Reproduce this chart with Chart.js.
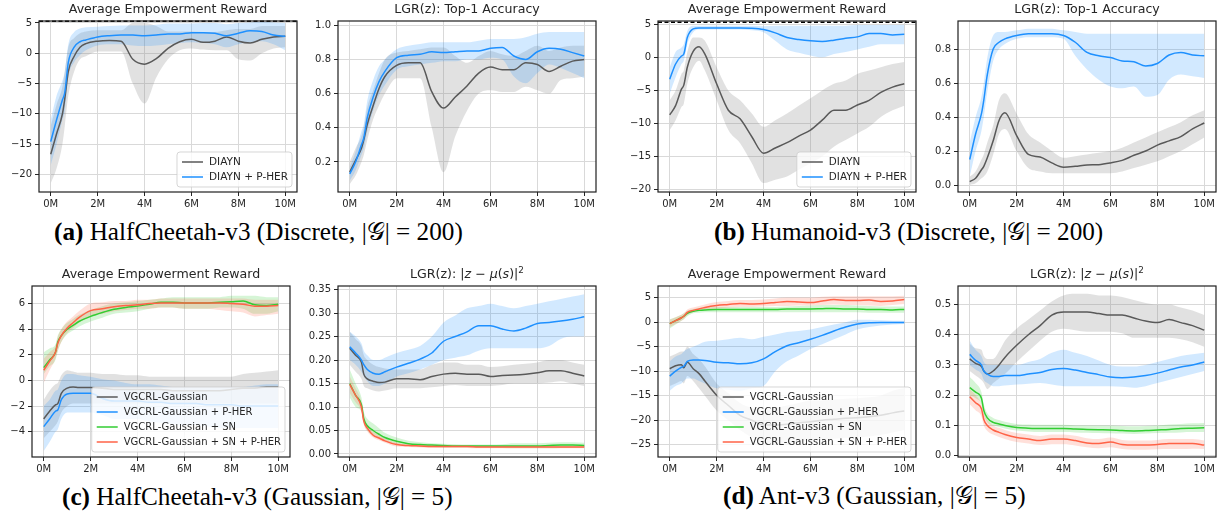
<!DOCTYPE html>
<html><head><meta charset="utf-8">
<script src="https://cdn.jsdelivr.net/npm/chart.js@4.4.0/dist/chart.umd.min.js"></script>
<style>
html,body{margin:0;padding:0;background:#fff;}
body{width:1224px;height:519px;overflow:hidden;position:relative;}
canvas{position:absolute;}
.cap{position:absolute;font-family:"Liberation Serif","Times New Roman",serif;font-size:25.2px;line-height:30px;white-space:nowrap;color:#000;}
.cap b{font-weight:bold;}
</style>
</head><body>
<div class="cap" style="left:54px;top:217px"><b>(a)</b> HalfCheetah-v3 (Discrete, |𝒢| = 200)</div>
<div class="cap" style="left:714px;top:217px"><b>(b)</b> Humanoid-v3 (Discrete, |𝒢| = 200)</div>
<div class="cap" style="left:62px;top:482px"><b>(c)</b> HalfCheetah-v3 (Gaussian, |𝒢| = 5)</div>
<div class="cap" style="left:723px;top:481px"><b>(d)</b> Ant-v3 (Gaussian, |𝒢| = 5)</div>
<script>
// ---------- shared axes ----------
const X = [0,0.25,0.5,0.6,0.75,1,1.25,1.5,2,2.5,3,3.5,4,4.5,5,5.5,6,6.5,7,7.5,8,8.5,9,9.5,10];
const X_TICKS = [0,2,4,6,8,10];
const X_TICK_LABELS = ['0M','2M','4M','6M','8M','10M'];
const SERIES_DISCRETE = ['DIAYN','DIAYN + P-HER'];
const SERIES_GAUSS = ['VGCRL-Gaussian','VGCRL-Gaussian + P-HER','VGCRL-Gaussian + SN','VGCRL-Gaussian + SN + P-HER'];
const REF_LOG200 = 5.298;

// ---------- (a) HalfCheetah discrete: reward ----------
const A1_YTICKS = [-20,-15,-10,-5,0,5];
const A1_YLABELS = ['−20','−15','−10','−5','0','5'];
const a1_diayn_mean = [-16.7,-13.3,-10.0,-7.5,-3.0,-0.5,1.0,1.6,2.0,2.1,2.0,-1.0,-1.8,-0.9,0.8,1.9,2.3,1.8,2.0,2.7,2.0,1.7,2.3,2.7,2.8];
const a1_diayn_lo   = [-21.5,-19,-15,-12,-7,-3,-1,-0.5,0.3,0.3,0.3,-5,-8.3,-4,-1,0.5,0.8,0.6,0.5,0.5,-1,-1.2,0,0.8,1];
const a1_diayn_hi   = [-12,-8.5,-5.5,-3,1,2.5,3.3,3.6,3.8,3.8,3.8,5.0,5.0,4.5,3.6,3.6,3.6,3.5,3.5,3.8,4.0,4.0,4.5,4.5,4.5];
const a1_pher_mean  = [-14.6,-11,-7.7,-6.5,-1.5,1.0,1.9,2.2,2.7,2.9,3.0,3.0,2.9,3.0,3.2,3.2,3.4,3.4,3.3,2.9,3.3,3.7,3.6,3.0,2.8];
const a1_pher_lo    = [-18.5,-15,-11,-9.5,-4,-1.5,-0.3,0.5,1.3,1.5,1.5,1.3,1.2,1.3,1.5,1.7,1.8,1.7,1.5,1.0,1.5,1.8,2.0,1.5,0.5];
const a1_pher_hi    = [-11,-7,-4.5,-3,1.5,3.5,4.1,4.3,4.4,4.5,4.6,4.6,4.6,4.7,4.9,4.9,4.9,5.0,5.0,4.8,5.0,5.1,5.2,5.1,5.0];

// ---------- (a) HalfCheetah discrete: top-1 accuracy ----------
const A2_YTICKS = [0.2,0.4,0.6,0.8,1.0];
const A2_YLABELS = ['0.2','0.4','0.6','0.8','1.0'];
const a2_diayn_mean = [.14,.21,.28,.33,.42,.53,.63,.70,.765,.78,.78,.61,.515,.58,.645,.72,.755,.74,.74,.78,.77,.73,.76,.79,.80];
const a2_diayn_lo   = [.07,.12,.2,.24,.33,.45,.53,.6,.69,.69,.69,.4,.14,.35,.5,.6,.62,.61,.61,.64,.62,.6,.68,.69,.7];
const a2_diayn_hi   = [.2,.28,.35,.4,.52,.62,.72,.8,.84,.85,.86,.87,.87,.82,.78,.82,.85,.83,.82,.85,.88,.85,.87,.88,.88];
const a2_pher_mean  = [.13,.2,.3,.34,.46,.58,.67,.73,.81,.825,.83,.845,.84,.845,.85,.85,.865,.87,.82,.80,.845,.865,.86,.84,.82];
const a2_pher_lo    = [.09,.15,.24,.28,.38,.5,.59,.65,.74,.76,.77,.78,.79,.79,.8,.8,.81,.8,.7,.66,.72,.77,.75,.72,.69];
const a2_pher_hi    = [.17,.26,.38,.42,.56,.68,.76,.8,.86,.88,.89,.9,.9,.9,.9,.91,.92,.92,.92,.93,.95,.96,.96,.96,.96];

// ---------- (b) Humanoid discrete: reward ----------
const B1_YTICKS = [-20,-15,-10,-5,0,5];
const B1_YLABELS = ['−20','−15','−10','−5','0','5'];
const b1_diayn_mean = [-8.7,-7.3,-4.8,-4.2,-1.5,0.9,1.6,0.5,-4.0,-8.0,-9.3,-12.0,-14.5,-13.7,-12.9,-11.9,-11.0,-9.5,-8.0,-8.0,-7.2,-6.5,-5.3,-4.5,-4.0];
const b1_diayn_lo   = [-11,-9.5,-7.5,-7,-4,-1.5,-0.5,-2,-6.5,-11,-13,-16,-19,-18.5,-18,-17,-16,-15,-13.5,-12.5,-11.5,-10.5,-9,-8,-7.3];
const b1_diayn_hi   = [-6.5,-5,-2.5,-2,0.8,3,3,2.5,-1.5,-5,-6.5,-8.5,-10.5,-9.5,-8.5,-7.3,-6.2,-5,-4,-3.5,-2.5,-2,-1.5,-1,-0.7];
const b1_pher_mean  = [-3.3,-1.0,0.2,0.5,3.0,4.3,4.45,4.45,4.45,4.45,4.45,4.4,4.2,3.7,3.0,2.7,2.5,2.4,2.6,2.9,3.1,3.6,3.6,3.4,3.5];
const b1_pher_lo    = [-5.5,-3,-1,-0.5,2,3.8,4.2,4.2,4.2,4.2,4.2,4.1,3.8,2.5,1.2,0.7,0.3,0,0.5,0.8,1.2,1.6,2,2,2];
const b1_pher_hi    = [-1.5,0.8,1.5,2,4,4.8,4.8,4.8,4.8,4.8,4.8,4.8,4.7,4.8,4.8,4.8,4.8,4.8,4.8,4.8,4.9,4.9,4.9,4.9,4.9];

// ---------- (b) Humanoid discrete: top-1 accuracy ----------
const B2_YTICKS = [0,0.2,0.4,0.6,0.8];
const B2_YLABELS = ['0.0','0.2','0.4','0.6','0.8'];
const b2_diayn_mean = [.02,.04,.09,.11,.16,.26,.38,.425,.29,.18,.165,.13,.105,.11,.118,.12,.13,.145,.175,.2,.235,.26,.285,.33,.365];
const b2_diayn_lo   = [0,.01,.04,.05,.08,.18,.3,.33,.2,.1,.08,.07,.07,.07,.07,.07,.07,.08,.1,.12,.14,.17,.2,.24,.28];
const b2_diayn_hi   = [.05,.08,.15,.18,.25,.35,.5,.54,.42,.3,.25,.2,.16,.17,.18,.19,.2,.22,.25,.28,.31,.34,.37,.41,.44];
const b2_pher_mean  = [.15,.3,.42,.5,.65,.8,.84,.86,.88,.89,.89,.89,.88,.84,.78,.76,.75,.73,.725,.7,.715,.765,.78,.765,.76];
const b2_pher_lo    = [.05,.2,.32,.4,.55,.73,.8,.83,.86,.87,.87,.87,.86,.76,.68,.62,.58,.57,.58,.52,.53,.62,.65,.64,.63];
const b2_pher_hi    = [.25,.4,.52,.6,.75,.88,.9,.9,.91,.92,.92,.92,.91,.9,.89,.89,.89,.89,.89,.89,.89,.89,.89,.89,.89];

// ---------- (c) HalfCheetah Gaussian: reward ----------
const C1_YTICKS = [-4,-2,0,2,4,6];
const C1_YLABELS = ['−4','−2','0','2','4','6'];
const c1_base_mean   = [-3.0,-2.4,-1.9,-1.8,-1.0,-0.6,-0.5,-0.55,-0.55,-0.6,-0.7,-0.7,-0.7,-0.7,-0.7,-0.8,-0.8,-0.8,-0.8,-0.8,-0.7,-0.6,-0.6,-0.5,-0.5];
const c1_base_lo     = [-4.5,-4,-3.5,-3.2,-2.5,-2,-1.8,-1.8,-1.8,-1.8,-1.8,-1.8,-1.8,-1.8,-1.8,-1.8,-1.8,-1.8,-1.8,-1.8,-1.8,-1.8,-1.8,-1.8,-1.8];
const c1_base_hi     = [-1.5,-0.8,-0.3,-0.2,0.4,0.8,0.7,0.6,0.6,0.5,0.5,0.4,0.4,0.3,0.3,0.3,0.3,0.3,0.3,0.3,0.3,0.5,0.6,0.7,0.8];
const c1_pher_mean   = [-3.6,-3.0,-2.4,-2.3,-1.5,-1.05,-1.0,-1.0,-1.0,-1.4,-1.6,-1.6,-1.6,-1.7,-1.7,-1.8,-1.8,-1.8,-1.9,-1.9,-1.9,-2.0,-2.0,-2.0,-2.0];
const c1_pher_lo     = [-5.5,-4.8,-4,-3.8,-3,-2.5,-2.5,-2.5,-2.5,-2.7,-3,-3,-3,-3.2,-3.3,-3.4,-3.5,-3.5,-3.6,-3.7,-3.7,-3.7,-3.7,-3.7,-3.7];
const c1_pher_hi     = [-2,-1.5,-0.8,-0.7,0,0.5,0.5,0.4,0.3,0.1,0,-0.2,-0.3,-0.3,-0.4,-0.5,-0.5,-0.5,-0.5,-0.5,-0.5,-0.5,-0.4,-0.3,-0.3];
const c1_sn_mean     = [1.0,1.6,2.2,3.0,3.5,4.0,4.3,4.6,5.0,5.3,5.55,5.7,5.8,5.95,6.1,6.1,6.05,6.05,6.05,6.1,6.15,6.2,5.9,5.85,5.95];
const c1_sn_lo       = [0.5,1.1,1.6,2.3,3.0,3.6,3.9,4.2,4.6,4.9,5.2,5.3,5.4,5.6,5.7,5.7,5.6,5.6,5.6,5.7,5.7,5.6,5.2,5.2,5.4];
const c1_sn_hi       = [2.2,2.5,2.8,3.5,4.0,4.5,4.8,5.1,5.5,5.8,6.0,6.1,6.2,6.3,6.4,6.5,6.5,6.5,6.5,6.5,6.6,6.6,6.6,6.5,6.5];
const c1_snpher_mean = [0.8,1.5,2.2,2.9,3.5,4.1,4.5,4.9,5.45,5.6,5.75,5.85,5.9,6.0,6.05,6.05,6.05,6.05,6.05,6.05,6.0,5.95,5.8,5.8,5.85];
const c1_snpher_lo   = [-0.2,0.8,1.7,2.3,3.0,3.7,4.1,4.5,5.0,5.2,5.4,5.5,5.6,5.6,5.7,5.7,5.6,5.6,5.6,5.5,5.4,5.3,5.0,5.1,5.2];
const c1_snpher_hi   = [1.7,2.2,2.7,3.4,4.0,4.6,5.0,5.4,6.0,6.1,6.2,6.2,6.3,6.3,6.4,6.4,6.4,6.4,6.4,6.4,6.4,6.4,6.3,6.3,6.3];

// ---------- (c) HalfCheetah Gaussian: |z - mu(s)|^2 ----------
const C2_YTICKS = [0,0.05,0.10,0.15,0.20,0.25,0.30,0.35];
const C2_YLABELS = ['0.00','0.05','0.10','0.15','0.20','0.25','0.30','0.35'];
const c2_base_mean   = [.225,.21,.195,.17,.16,.155,.152,.153,.16,.16,.158,.165,.17,.172,.17,.17,.165,.167,.168,.17,.173,.177,.177,.172,.166];
const c2_base_lo     = [.19,.175,.16,.145,.14,.135,.133,.135,.14,.14,.14,.142,.145,.147,.145,.145,.145,.147,.15,.15,.15,.152,.155,.15,.145];
const c2_base_hi     = [.26,.245,.23,.21,.2,.19,.185,.182,.18,.18,.18,.19,.195,.195,.19,.19,.185,.187,.19,.192,.195,.2,.2,.195,.19];
const c2_pher_mean   = [.228,.215,.2,.19,.18,.172,.17,.175,.185,.193,.202,.215,.24,.25,.26,.273,.273,.266,.262,.268,.278,.28,.283,.287,.292];
const c2_pher_lo     = [.2,.19,.175,.165,.155,.145,.145,.15,.165,.172,.18,.19,.2,.205,.21,.22,.225,.225,.225,.225,.225,.23,.245,.25,.25];
const c2_pher_hi     = [.26,.25,.235,.22,.21,.2,.2,.205,.215,.222,.23,.25,.28,.295,.31,.315,.32,.315,.31,.315,.32,.325,.33,.335,.34];
const c2_sn_mean     = [.15,.125,.105,.075,.06,.05,.042,.035,.027,.022,.02,.019,.018,.017,.017,.017,.017,.017,.017,.017,.017,.018,.019,.019,.018];
const c2_sn_lo       = [.12,.1,.09,.065,.05,.04,.033,.028,.02,.017,.015,.015,.014,.014,.014,.014,.014,.013,.012,.012,.012,.012,.013,.013,.013];
const c2_sn_hi       = [.18,.15,.12,.09,.075,.065,.055,.045,.035,.028,.025,.023,.022,.021,.02,.02,.02,.021,.023,.023,.023,.024,.025,.025,.024];
const c2_snpher_mean = [.148,.125,.1,.07,.055,.04,.034,.028,.02,.018,.017,.016,.016,.016,.016,.015,.015,.015,.015,.015,.015,.015,.015,.015,.015];
const c2_snpher_lo   = [.13,.11,.09,.062,.048,.035,.029,.024,.016,.015,.014,.013,.013,.013,.013,.012,.012,.012,.012,.012,.012,.012,.012,.012,.012];
const c2_snpher_hi   = [.165,.14,.11,.078,.062,.048,.04,.033,.024,.021,.02,.019,.019,.019,.019,.018,.018,.018,.018,.018,.018,.018,.018,.018,.018];

// ---------- (d) Ant Gaussian: reward ----------
const D1_YTICKS = [-25,-20,-15,-10,-5,0,5];
const D1_YLABELS = ['−25','−20','−15','−10','−5','0','5'];
const d1_base_mean   = [-9.5,-8.9,-8.7,-9.3,-8.2,-9.5,-10.5,-12.0,-14.9,-17.0,-19.0,-20.0,-21.0,-21.0,-20.8,-20.5,-20.3,-20.0,-19.8,-19.6,-19.5,-19.3,-19.0,-18.5,-18.1];
const d1_base_lo     = [-13,-12.5,-12,-12.5,-11,-12,-13.5,-15,-18,-20,-22,-23.5,-24.5,-25,-25,-24.5,-24,-24,-23.8,-23.6,-23.5,-23.3,-23,-22.5,-22];
const d1_base_hi     = [-7,-6.5,-6,-6,-5,-6.5,-7.5,-9,-12.5,-14.5,-16.5,-17.5,-18,-17.5,-17,-16.5,-16,-16,-15.8,-15.6,-15.5,-15.3,-15,-14,-13.5];
const d1_pher_mean   = [-11,-10,-9.2,-9.0,-8.0,-7.7,-7.7,-7.8,-8.2,-8.3,-8.5,-8.3,-7.5,-6.0,-4.8,-4.2,-3.5,-2.7,-1.8,-1.0,-0.4,-0.1,-0.05,-0.05,-0.05];
const d1_pher_lo     = [-14,-13,-12.5,-12,-11.5,-11.5,-12,-12.5,-13.5,-13.8,-14,-13.5,-13,-10,-8,-6.8,-5.5,-4.5,-3.5,-2.5,-1.5,-1,-0.7,-0.5,-0.4];
const d1_pher_hi     = [-8,-7,-6.5,-6,-5.5,-5,-4.5,-4,-3.8,-3.5,-3.2,-3.5,-3,-2.5,-2,-1.8,-1.5,-1,-0.5,0,0.5,0.5,0.4,0.3,0.3];
const d1_sn_mean     = [-0.3,0.3,0.9,1.2,1.8,2.2,2.4,2.5,2.6,2.6,2.6,2.6,2.6,2.6,2.7,2.7,2.7,2.75,2.8,2.7,2.7,2.6,2.6,2.5,2.6];
const d1_sn_lo       = [-1.3,-0.5,0.3,0.6,1.2,1.8,1.9,2.0,2.0,2.0,2.0,2.0,2.0,2.0,2.0,2.0,2.0,2.0,2.0,2.0,2.0,1.9,1.9,1.9,1.9];
const d1_sn_hi       = [0.6,1.0,1.5,1.8,2.3,2.7,2.9,3.0,3.1,3.1,3.1,3.1,3.1,3.1,3.2,3.3,3.4,3.5,3.5,3.5,3.4,3.3,3.2,3.2,3.2];
const d1_snpher_mean = [-0.3,0.3,0.9,1.2,2.0,2.4,2.7,3.0,3.4,3.6,3.8,3.7,3.8,4.0,4.2,4.1,4.0,4.3,4.6,4.4,4.4,4.5,4.2,4.3,4.6];
const d1_snpher_lo   = [-1,-0.4,0.3,0.6,1.4,2.0,2.3,2.5,2.8,3.0,3.1,3.1,3.2,3.3,3.3,3.4,3.4,3.5,3.6,3.5,3.5,3.4,3.3,3.5,3.7];
const d1_snpher_hi   = [0.5,1.0,1.5,1.8,2.6,3.0,3.3,3.6,4.1,4.3,4.5,4.5,4.6,4.8,5.0,5.0,5.0,5.2,5.3,5.3,5.3,5.3,5.3,5.3,5.4];

// ---------- (d) Ant Gaussian: |z - mu(s)|^2 ----------
const D2_YTICKS = [0,0.1,0.2,0.3,0.4,0.5];
const D2_YLABELS = ['0.0','0.1','0.2','0.3','0.4','0.5'];
const d2_base_mean   = [.32,.305,.295,.28,.27,.28,.3,.325,.365,.4,.43,.465,.475,.475,.475,.47,.465,.465,.455,.445,.44,.45,.44,.43,.415];
const d2_base_lo     = [.28,.265,.25,.24,.22,.24,.255,.27,.31,.345,.38,.41,.42,.415,.41,.41,.41,.405,.39,.39,.39,.39,.385,.375,.36];
const d2_base_hi     = [.37,.355,.35,.33,.32,.32,.345,.38,.42,.45,.48,.51,.53,.535,.535,.53,.53,.525,.515,.505,.5,.5,.49,.48,.465];
const d2_pher_mean   = [.335,.315,.3,.28,.27,.262,.262,.265,.265,.27,.275,.285,.288,.283,.275,.268,.26,.258,.26,.265,.273,.283,.293,.3,.31];
const d2_pher_lo     = [.3,.285,.27,.25,.24,.23,.23,.232,.235,.238,.24,.235,.23,.23,.23,.23,.23,.228,.225,.23,.24,.25,.26,.27,.28];
const d2_pher_hi     = [.38,.35,.33,.31,.3,.3,.3,.3,.3,.31,.32,.34,.35,.34,.33,.315,.3,.295,.295,.3,.31,.32,.33,.335,.34];
const d2_sn_mean     = [.225,.21,.19,.15,.125,.11,.105,.1,.093,.091,.09,.09,.09,.088,.087,.086,.085,.083,.082,.083,.085,.087,.09,.091,.092];
const d2_sn_lo       = [.2,.19,.17,.135,.11,.1,.095,.09,.083,.08,.078,.078,.078,.077,.076,.075,.074,.073,.072,.073,.075,.076,.077,.078,.078];
const d2_sn_hi       = [.26,.24,.21,.17,.14,.125,.118,.112,.105,.103,.102,.102,.102,.1,.1,.1,.1,.098,.097,.098,.1,.103,.105,.107,.108];
const d2_snpher_mean = [.195,.175,.155,.12,.1,.085,.077,.07,.06,.055,.05,.055,.055,.05,.042,.04,.045,.037,.035,.035,.037,.04,.04,.04,.035];
const d2_snpher_lo   = [.17,.15,.13,.1,.082,.07,.062,.055,.045,.04,.035,.038,.038,.034,.028,.025,.028,.022,.02,.02,.021,.022,.022,.023,.022];
const d2_snpher_hi   = [.22,.2,.17,.14,.118,.1,.092,.085,.075,.07,.065,.07,.07,.066,.058,.055,.06,.052,.05,.05,.052,.055,.055,.055,.05];

// ---------- titles (rich text segments: 0 normal, 1 italic, 2 superscript) ----------
const TITLE_REWARD = [['Average Empowerment Reward',0]];
const TITLE_ACC = [['LGR(z): Top-1 Accuracy',0]];
const TITLE_DIST = [['LGR(z): |',0],['z',1],[' − ',0],['μ',1],['(',0],['s',1],[')|',0],['2',2]];

// ---------- styles ----------
const STYLE = {
  gray:   {line:'#595959', band:'rgba(128,128,128,0.24)'},
  blue:   {line:'#1E90FF', band:'rgba(30,144,255,0.2)'},
  green:  {line:'#32CD32', band:'rgba(50,205,50,0.2)'},
  orange: {line:'#FF6347', band:'rgba(255,99,71,0.2)'}
};
const GRID = '#d9d9d9', INK = '#262626';
const YW = 34, TH = 21, XH = 20, PLOT_W = 258, PLOT_H = 171, PAD_R = 6;
const CW = YW + PLOT_W + PAD_R, CH = TH + PLOT_H + XH;

const pts = arr => X.map((x, i) => ({x, y: arr[i]}));

const decorPlugin = {
  id: 'decor',
  afterDatasetsDraw(chart, args, o) {
    const ctx = chart.ctx, ca = chart.chartArea;
    ctx.save();
    if (o.refLine !== undefined) {
      const y = chart.scales.y.getPixelForValue(o.refLine);
      ctx.strokeStyle = '#000'; ctx.lineWidth = 1.5; ctx.setLineDash([4, 2.5]);
      ctx.beginPath(); ctx.moveTo(ca.left, y); ctx.lineTo(ca.right, y); ctx.stroke();
      ctx.setLineDash([]);
    }
    ctx.strokeStyle = '#1f1f1f'; ctx.lineWidth = 1.2;
    ctx.strokeRect(ca.left, ca.top, ca.right - ca.left, ca.bottom - ca.top);
    if (o.legendSize) {
      const items = chart.data.datasets.filter(d => d.isMean);
      ctx.font = o.legendSize + 'px "DejaVu Sans"';
      let tw = 0; items.forEach(d => { tw = Math.max(tw, ctx.measureText(d.label).width); });
      const padX = 5, handle = 21, gap = 6, rowH = 15, padY = 2.5;
      const w = padX + handle + gap + tw + 4, h = items.length * rowH + 2 * padY;
      const x0 = ca.right - 5 - w, y0 = ca.bottom - 5 - h;
      ctx.beginPath();
      if (ctx.roundRect) ctx.roundRect(x0, y0, w, h, 3); else ctx.rect(x0, y0, w, h);
      ctx.fillStyle = 'rgba(255,255,255,0.8)'; ctx.fill();
      ctx.strokeStyle = 'rgba(204,204,204,0.8)'; ctx.lineWidth = 1; ctx.stroke();
      items.forEach((d, i) => {
        const cy = y0 + padY + rowH / 2 + i * rowH;
        ctx.strokeStyle = d.borderColor; ctx.lineWidth = 1.5;
        ctx.beginPath(); ctx.moveTo(x0 + padX, cy); ctx.lineTo(x0 + padX + handle, cy); ctx.stroke();
        ctx.fillStyle = INK; ctx.textBaseline = 'middle'; ctx.textAlign = 'left';
        ctx.fillText(d.label, x0 + padX + handle + gap, cy + 0.5);
      });
    }
    ctx.restore();
  },
  afterDraw(chart, args, o) {
    const segs = o.title; if (!segs) return;
    const ctx = chart.ctx, ca = chart.chartArea, size = 12.6;
    const fontFor = t => (t === 1 ? 'italic ' : '') + (t === 2 ? size * 0.7 : size) + 'px "DejaVu Sans"';
    ctx.save();
    let total = 0;
    segs.forEach(s => { ctx.font = fontFor(s[1]); total += ctx.measureText(s[0]).width; });
    let x = (ca.left + ca.right) / 2 - total / 2;
    const y = ca.top - 11;
    ctx.textBaseline = 'middle'; ctx.textAlign = 'left'; ctx.fillStyle = INK;
    segs.forEach(s => {
      ctx.font = fontFor(s[1]);
      ctx.fillText(s[0], x, s[1] === 2 ? y - size * 0.38 : y);
      x += ctx.measureText(s[0]).width;
    });
    ctx.restore();
  }
};

function build(p) {
  const cv = document.createElement('canvas');
  cv.width = CW; cv.height = CH;
  cv.style.left = p.left + 'px'; cv.style.top = p.top + 'px';
  document.body.appendChild(cv);
  const datasets = [];
  const n = p.series.length;
  p.series.forEach((s, i) => {
    const st = STYLE[s.style];
    const loIdx = datasets.length;
    datasets.push({label: s.name + ' lo', data: pts(s.lo), borderWidth: 0, pointRadius: 0, fill: false,
      order: 100 + n - i, cubicInterpolationMode: 'monotone', borderColor: 'rgba(0,0,0,0)'});
    datasets.push({label: s.name + ' hi', data: pts(s.hi), borderWidth: 0, pointRadius: 0, fill: {target: loIdx},
      backgroundColor: st.band, order: 100 + n - i, cubicInterpolationMode: 'monotone', borderColor: 'rgba(0,0,0,0)'});
    datasets.push({label: s.name, data: pts(s.mean), borderColor: st.line, borderWidth: 1.5, pointRadius: 0,
      fill: false, order: n - i, cubicInterpolationMode: 'monotone', isMean: true});
  });
  const tickFont = {family: '"DejaVu Sans"', size: 10};
  new Chart(cv, {
    type: 'line',
    data: {datasets},
    plugins: [decorPlugin],
    options: {
      responsive: false, animation: false, devicePixelRatio: 1,
      layout: {padding: {top: TH, right: PAD_R, left: 0, bottom: 0}},
      plugins: {
        legend: {display: false}, tooltip: {enabled: false}, title: {display: false},
        decor: {title: p.title, refLine: p.refLine, legendSize: p.legendSize}
      },
      scales: {
        x: {
          type: 'linear', min: -0.5, max: 10.5,
          afterBuildTicks: s => { s.ticks = X_TICKS.map(v => ({value: v})); },
          afterFit: s => { s.height = XH; },
          ticks: {autoSkip: false, maxRotation: 0, padding: 2, color: INK, font: tickFont,
            callback: (v, i) => X_TICK_LABELS[i]},
          grid: {color: GRID, lineWidth: 1, drawTicks: true, tickLength: 4, tickColor: INK, tickWidth: 1},
          border: {display: false}
        },
        y: {
          type: 'linear', min: p.ymin, max: p.ymax,
          afterBuildTicks: s => { s.ticks = p.yticks.map(v => ({value: v})); },
          afterFit: s => { s.width = YW; },
          ticks: {autoSkip: false, padding: 3, color: INK, font: tickFont,
            callback: (v, i) => p.ylabels[i]},
          grid: {color: GRID, lineWidth: 1, drawTicks: true, tickLength: 4, tickColor: INK, tickWidth: 1},
          border: {display: false}
        }
      }
    }
  });
}

const disc = (m0, l0, h0, m1, l1, h1) => [
  {name: SERIES_DISCRETE[0], style: 'gray', mean: m0, lo: l0, hi: h0},
  {name: SERIES_DISCRETE[1], style: 'blue', mean: m1, lo: l1, hi: h1}
];
const gaus = (a, b, c, d) => [
  {name: SERIES_GAUSS[0], style: 'gray',   mean: a[0], lo: a[1], hi: a[2]},
  {name: SERIES_GAUSS[1], style: 'blue',   mean: b[0], lo: b[1], hi: b[2]},
  {name: SERIES_GAUSS[2], style: 'green',  mean: c[0], lo: c[1], hi: c[2]},
  {name: SERIES_GAUSS[3], style: 'orange', mean: d[0], lo: d[1], hi: d[2]}
];

const panels = [
  {left: 5, top: 0, title: TITLE_REWARD, ymin: -22.93, ymax: 5.33, yticks: A1_YTICKS, ylabels: A1_YLABELS, refLine: REF_LOG200, legendSize: 10.5,
   series: disc(a1_diayn_mean, a1_diayn_lo, a1_diayn_hi, a1_pher_mean, a1_pher_lo, a1_pher_hi)},
  {left: 304, top: 0, title: TITLE_ACC, ymin: 0.024, ymax: 1.025, yticks: A2_YTICKS, ylabels: A2_YLABELS,
   series: disc(a2_diayn_mean, a2_diayn_lo, a2_diayn_hi, a2_pher_mean, a2_pher_lo, a2_pher_hi)},
  {left: 624, top: 0, title: TITLE_REWARD, ymin: -20.36, ymax: 5.5, yticks: B1_YTICKS, ylabels: B1_YLABELS, refLine: REF_LOG200, legendSize: 10.4,
   series: disc(b1_diayn_mean, b1_diayn_lo, b1_diayn_hi, b1_pher_mean, b1_pher_lo, b1_pher_hi)},
  {left: 924, top: 0, title: TITLE_ACC, ymin: -0.041, ymax: 0.965, yticks: B2_YTICKS, ylabels: B2_YLABELS,
   series: disc(b2_diayn_mean, b2_diayn_lo, b2_diayn_hi, b2_pher_mean, b2_pher_lo, b2_pher_hi)},
  {left: -2, top: 265, title: TITLE_REWARD, ymin: -5.97, ymax: 7.37, yticks: C1_YTICKS, ylabels: C1_YLABELS, legendSize: 10,
   series: gaus([c1_base_mean, c1_base_lo, c1_base_hi], [c1_pher_mean, c1_pher_lo, c1_pher_hi],
                [c1_sn_mean, c1_sn_lo, c1_sn_hi], [c1_snpher_mean, c1_snpher_lo, c1_snpher_hi])},
  {left: 304, top: 265, title: TITLE_DIST, ymin: -0.0064, ymax: 0.3576, yticks: C2_YTICKS, ylabels: C2_YLABELS,
   series: gaus([c2_base_mean, c2_base_lo, c2_base_hi], [c2_pher_mean, c2_pher_lo, c2_pher_hi],
                [c2_sn_mean, c2_sn_lo, c2_sn_hi], [c2_snpher_mean, c2_snpher_lo, c2_snpher_hi])},
  {left: 624, top: 265, title: TITLE_REWARD, ymin: -27.5, ymax: 7.37, yticks: D1_YTICKS, ylabels: D1_YLABELS, legendSize: 10,
   series: gaus([d1_base_mean, d1_base_lo, d1_base_hi], [d1_pher_mean, d1_pher_lo, d1_pher_hi],
                [d1_sn_mean, d1_sn_lo, d1_sn_hi], [d1_snpher_mean, d1_snpher_lo, d1_snpher_hi])},
  {left: 924, top: 265, title: TITLE_DIST, ymin: -0.0043, ymax: 0.561, yticks: D2_YTICKS, ylabels: D2_YLABELS,
   series: gaus([d2_base_mean, d2_base_lo, d2_base_hi], [d2_pher_mean, d2_pher_lo, d2_pher_hi],
                [d2_sn_mean, d2_sn_lo, d2_sn_hi], [d2_snpher_mean, d2_snpher_lo, d2_snpher_hi])}
];
panels.forEach(build);
</script>
</body></html>
